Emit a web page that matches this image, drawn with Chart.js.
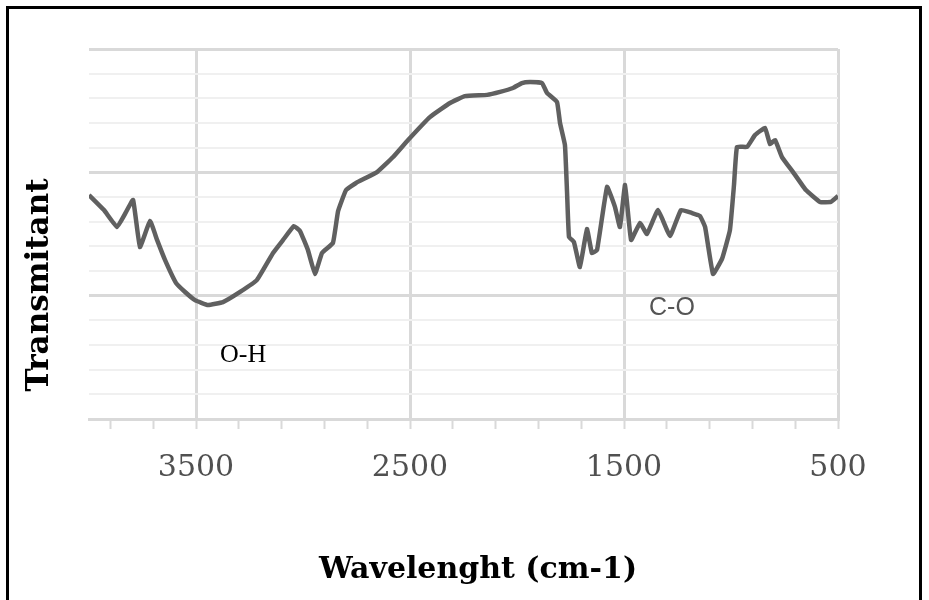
<!DOCTYPE html>
<html>
<head>
<meta charset="utf-8">
<script src="https://cdn.jsdelivr.net/npm/chart.js@4.4.1/dist/chart.umd.min.js"></script>
<style>
  html, body { margin: 0; padding: 0; background: #fff; overflow: hidden; }
  #wrap { position: relative; width: 929px; height: 600px; }
  #frame { position: absolute; left: 6px; top: 6px; width: 916px; height: 640px;
           border: 3px solid #000; box-sizing: border-box; pointer-events: none; }
  canvas { position: absolute; left: 0; top: 0; }
</style>
</head>
<body>
<div id="wrap">
  <canvas id="ftir" width="929" height="600"></canvas>
  <div id="frame"></div>
</div>
<script>
// --- data (wavenumber in cm-1, transmittance in grid units) ---
const wavenumbers = [4000, 3930, 3869, 3832, 3794, 3762, 3715, 3682, 3645, 3593,
  3551, 3505, 3444, 3374, 3294, 3215, 3140, 3093, 3042, 3014,
  2977, 2944, 2911, 2860, 2836, 2799, 2752, 2654, 2579, 2509,
  2407, 2313, 2243, 2140, 2079, 2019, 1977, 1939, 1883, 1860,
  1813, 1799, 1776, 1766, 1757, 1734, 1706, 1673, 1650, 1626,
  1579, 1542, 1519, 1495, 1467, 1425, 1393, 1341, 1285, 1234,
  1182, 1145, 1121, 1084, 1042, 1005, 986, 972, 925, 888,
  841, 818, 794, 762, 710, 650, 584, 533, 500];
const transmittance = [9.08, 8.47, 7.78, 8.31, 8.88, 6.97, 8.03, 7.26, 6.45, 5.51,
  5.15, 4.82, 4.62, 4.74, 5.15, 5.64, 6.73, 7.26, 7.82, 7.62,
  6.85, 5.88, 6.73, 7.14, 8.43, 9.28, 9.57, 10.01, 10.62, 11.31,
  12.24, 12.81, 13.09, 13.14, 13.26, 13.42, 13.62, 13.66, 13.62, 13.22,
  12.85, 12.0, 11.11, 9.16, 7.38, 7.18, 6.16, 7.70, 6.73, 6.85,
  9.41, 8.59, 7.78, 9.49, 7.26, 7.95, 7.50, 8.47, 7.42, 8.47,
  8.35, 8.23, 7.78, 5.88, 6.49, 7.66, 9.49, 11.03, 11.03, 11.51,
  11.80, 11.15, 11.31, 10.62, 10.01, 9.28, 8.80, 8.80, 9.04];

// axis ticks
const xTickValues = [3900, 3700, 3500, 3300, 3100, 2900, 2700, 2500, 2300, 2100,
  1900, 1700, 1500, 1300, 1100, 900, 700, 500];
const xTickLabels = [3500, 2500, 1500, 500];
const yGridValues = [0, 1, 2, 3, 4, 5, 6, 7, 8, 9, 10, 11, 12, 13, 14, 15];

// titles and band labels
const xTitle = 'Wavelenght (cm-1)';
const yTitle = 'Transmitant';
const bandLabels = ['O-H', 'C-O'];
const bandX = [3280, 1276];
const bandY = [2.31, 4.22];

const points = wavenumbers.map((w, i) => ({ x: w, y: transmittance[i] }));

const textPlugin = {
  id: 'texts',
  afterDraw(chart) {
    const { ctx } = chart;
    const x = chart.scales.x, y = chart.scales.y;
    ctx.save();
    ctx.fillStyle = '#000';
    ctx.textAlign = 'center';
    ctx.textBaseline = 'alphabetic';
    ctx.font = 'bold 30px "DejaVu Serif"';
    ctx.fillText(xTitle, 478, 578);
    ctx.save();
    ctx.translate(48, 285);
    ctx.rotate(-Math.PI / 2);
    ctx.font = 'bold 31px "DejaVu Serif"';
    ctx.fillText(yTitle, 0, 0);
    ctx.restore();

    // band labels
    ctx.font = '26px "Liberation Serif"';
    ctx.fillStyle = '#000';
    ctx.fillText(bandLabels[0], x.getPixelForValue(bandX[0]), y.getPixelForValue(bandY[0]));
    ctx.font = '25px "Liberation Sans"';
    ctx.fillStyle = '#555';
    ctx.fillText(bandLabels[1], x.getPixelForValue(bandX[1]), y.getPixelForValue(bandY[1]));
    ctx.restore();
  }
};

new Chart(document.getElementById('ftir'), {
  type: 'line',
  data: {
    datasets: [{
      data: points,
      borderColor: '#606060',
      borderWidth: 4.5,
      pointRadius: 0,
      tension: 0.1,
      fill: false
    }]
  },
  options: {
    responsive: false,
    animation: false,
    plugins: { legend: { display: false }, tooltip: { enabled: false } },
    layout: { padding: { left: 0, right: 91, top: 49, bottom: 0 } },
    scales: {
      x: {
        type: 'linear',
        reverse: true,
        min: 500,
        max: 4000,
        afterBuildTicks: s => { s.ticks = xTickValues.map(v => ({ value: v })); },
        afterFit: s => { s.height = 181; },
        ticks: {
          autoSkip: false,
          maxRotation: 0,
          padding: 21,
          color: '#505050',
          font: { family: 'DejaVu Serif', size: 30 },
          callback: v => xTickLabels.includes(v) ? String(v) : ''
        },
        grid: {
          color: c => (c.tick && xTickLabels.includes(c.tick.value)) ? '#d9d9d9' : 'rgba(0,0,0,0)',
          lineWidth: 3,
          tickLength: 10,
          tickColor: '#d9d9d9',
          tickWidth: 2
        },
        border: { color: '#d9d9d9', width: 3 }
      },
      y: {
        min: 0,
        max: 15,
        afterBuildTicks: s => { s.ticks = yGridValues.map(v => ({ value: v })); },
        afterFit: s => { s.width = 89; },
        ticks: { display: false },
        grid: {
          color: c => (c.tick && c.tick.value % 5 === 0) ? '#d9d9d9' : '#f0f0f0',
          lineWidth: c => (c.tick && c.tick.value % 5 === 0) ? 3 : 2,
          drawTicks: false
        },
        border: { display: false }
      }
    }
  },
  plugins: [textPlugin]
});
</script>
</body>
</html>
